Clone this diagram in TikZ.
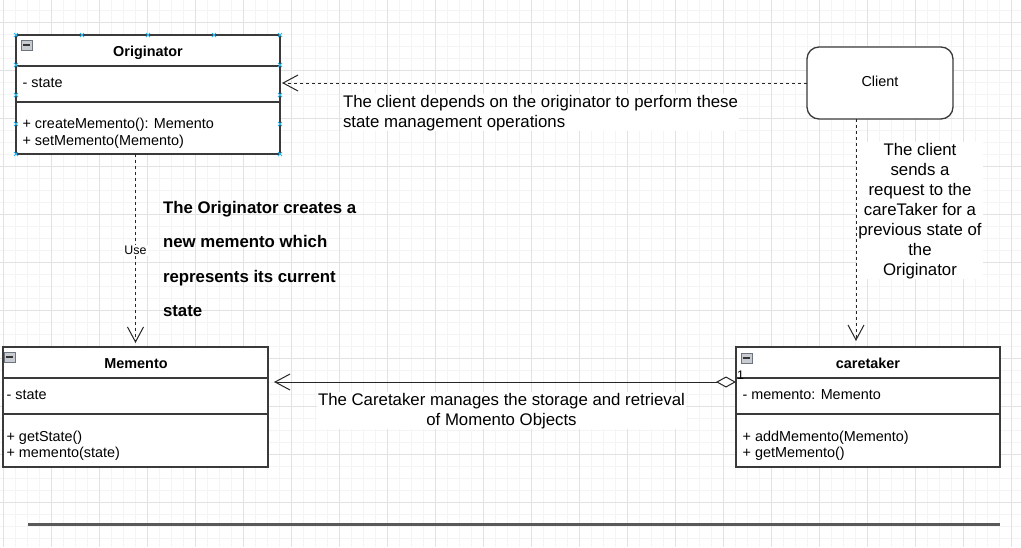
\documentclass[tikz,border=0pt]{standalone}
\usepackage{fontspec}
\setmainfont{Liberation Sans}
\usetikzlibrary{arrows.meta}
\definecolor{gridmajor}{HTML}{E2E2E2}
\definecolor{gridminor}{HTML}{F4F4F4}
\definecolor{strokec}{HTML}{3A3A3A}
\definecolor{handlec}{HTML}{29B6F2}
\definecolor{iconfill}{HTML}{C8CCD2}
\definecolor{iconline}{HTML}{6E747C}
\newcommand\clsfont{\fontsize{14.4}{17.3}\selectfont}
\newcommand\lblfont{\fontsize{16.8}{20}\selectfont}
\newcommand\boldlblfont{\fontsize{16.8}{34.5}\selectfont\bfseries}
\newcommand\smlfont{\fontsize{12.4}{14}\selectfont}
\begin{document}
\begin{tikzpicture}[x=1pt,y=-1pt,
  every node/.style={inner sep=0pt, outer sep=0pt},
  classbox/.style={draw=strokec, line width=1.3pt, fill=white, anchor=north west},
  clientbox/.style={draw=strokec, line width=1.3pt, fill=white, rounded corners=12pt, anchor=north west, minimum width=146pt, minimum height=72pt, font=\clsfont},
  sepline/.style={draw=strokec, line width=1.3pt},
  clstext/.style={anchor=base west, font=\clsfont},
  clshead/.style={anchor=base, font=\clsfont\bfseries},
  depline/.style={draw=black!85, line width=1pt, dash pattern=on 3pt off 3pt, -{Straight Barb[length=15pt,width=16pt]}},
  aggline/.style={draw=black!85, line width=1pt, {Diamond[fill=white,length=20pt,width=11pt]}-{Straight Barb[length=15pt,width=16pt]}},
  edgelabel/.style={font=\lblfont, fill=white, inner sep=1pt},
  handlemark/.style={draw=handlec, line width=0.8pt},
  collapseicon/.pic={
    \draw[iconline, fill=iconfill, line width=0.6pt] (-5.5,-5) rectangle (5.5,5);
    \draw[black!80, line width=1.2pt] (-3.5,0) -- (3.5,0);
  }
]
\useasboundingbox (0,0) rectangle (1021,547);
\fill[white] (0,0) rectangle (1021,547);
% grid
\foreach \gx in {3,15,...,1020} \draw[gridminor, line width=0.8pt] (\gx,0) -- (\gx,547);
\foreach \gy in {10,22,...,546} \draw[gridminor, line width=0.8pt] (0,\gy) -- (1021,\gy);
\foreach \gx in {3,51,...,1020} \draw[gridmajor, line width=0.9pt] (\gx,0) -- (\gx,547);
\foreach \gy in {22,70,...,546} \draw[gridmajor, line width=0.9pt] (0,\gy) -- (1021,\gy);

% boxes
\node[classbox, minimum width=264pt, minimum height=119pt] (orig) at (16,35) {};
\node[classbox, minimum width=265pt, minimum height=120pt] (mem) at (3,347) {};
\node[classbox, minimum width=264pt, minimum height=120pt] (care) at (736,347) {};
\node[clientbox] (client) at (807,47) {};
\node[font=\clsfont, anchor=base] (clienttxt) at (880,86.7) {Client};

% Originator
\draw[sepline] (16,66) -- (280,66);
\draw[sepline] (16,102) -- (280,102);
\pic at (26.5,45) {collapseicon};
\node[clshead] (origh) at (148,56) {Originator};
\node[clstext] (origa) at (22.6,87) {- state};
\node[clstext] (origm1) at (22.6,128) {+ createMemento(): Memento};
\node[clstext] (origm2) at (22.6,145) {+ setMemento(Memento)};

% Memento
\draw[sepline] (3,378) -- (268,378);
\draw[sepline] (3,414) -- (268,414);
\pic at (9.5,357) {collapseicon};
\node[clshead] (memh) at (136,368) {Memento};
\node[clstext] (mema) at (6.6,399) {- state};
\node[clstext] (memm1) at (6.6,441) {+ getState()};
\node[clstext] (memm2) at (6.6,457) {+ memento(state)};

% caretaker
\draw[sepline] (736,378) -- (1000,378);
\draw[sepline] (736,414) -- (1000,414);
\pic at (746.5,358) {collapseicon};
\node[clshead] (careh) at (868,368) {caretaker};
\node[clstext] (carea) at (742.6,399) {- memento: Memento};
\node[clstext] (carem1) at (742.6,441) {+ addMemento(Memento)};
\node[clstext] (carem2) at (742.6,457) {+ getMemento()};

% handles on Originator
\foreach \hx/\hy in {16/35,82/35,148/35,214/35,280/35,16/65,16/95,16/124,16/154,280/65,280/95,280/124,280/154}
  \draw[handlemark] (\hx-2,\hy-2) -- (\hx+2,\hy+2) (\hx-2,\hy+2) -- (\hx+2,\hy-2);

% connectors
\draw[depline, shorten >=2pt] (client.west) -- (client.west -| orig.east);
\draw[depline, shorten >=4pt] (orig.south -| mem.north) -- node[midway, fill=white, inner sep=1pt, font=\smlfont] (uselbl) {Use} (mem.north);
\coordinate (clbot) at ([xshift=-24pt]client.south);
\draw[depline, shorten >=6pt] (clbot) -- (clbot |- care.north);
\coordinate (agg) at ([yshift=-35pt]care.north west);
\draw[aggline, shorten >=6pt] (agg) -- (agg -| mem.east);
\node[anchor=base west, font=\smlfont] (mult) at (737,379) {1};

% labels (base anchor = baseline of last line)
\node[edgelabel, anchor=base west, align=left] (lbl1) at (342,127) {The client depends on the originator to perform these\\state management operations};
\node[anchor=base west, align=left, font=\boldlblfont] (lbl2) at (163,316.8) {The Originator creates a\\new memento which\\represents its current\\state};
\node[edgelabel, anchor=base, align=center] (lbl3) at (920,275) {The client\\sends a\\request to the\\careTaker for a\\previous state of\\the\\Originator};
\node[edgelabel, anchor=base, align=center] (lbl4) at (501.5,425) {The Caretaker manages the storage and retrieval\\of Momento Objects};

% bottom rule
\draw[line width=2.5pt, draw=black!65] (28,524.5) -- (1000,524.5);
\end{tikzpicture}
\end{document}
